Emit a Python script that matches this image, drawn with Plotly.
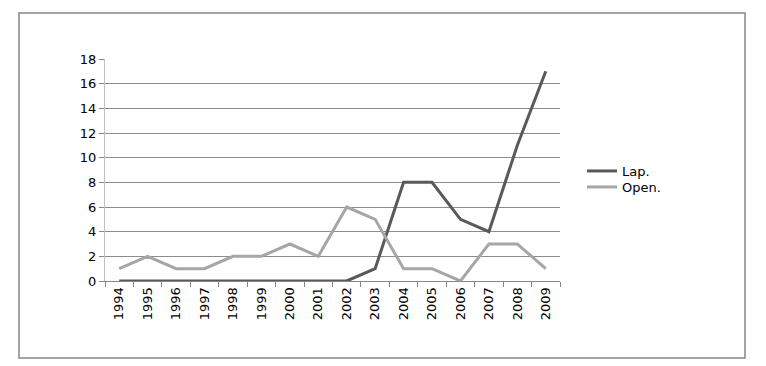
import plotly.graph_objects as go

years = [str(y) for y in range(1994, 2010)]
lap = [0, 0, 0, 0, 0, 0, 0, 0, 0, 1, 8, 8, 5, 4, 11, 17]
open_ = [1, 2, 1, 1, 2, 2, 3, 2, 6, 5, 1, 1, 0, 3, 3, 1]

OFF = 8  # default page body margin
W, H = 750, 352
L, R, T, B = 105 - OFF, 560 - OFF, 59 - OFF, 281 - OFF

fig = go.Figure()
fig.add_trace(go.Scatter(x=years, y=lap, mode="lines", name="Lap.", legend="legend",
                         line=dict(color="#595959", width=3)))
fig.add_trace(go.Scatter(x=years, y=open_, mode="lines", name="Open.", legend="legend2",
                         line=dict(color="#a6a6a6", width=3)))

pw, ph = R - L, B - T
fig.add_shape(type="rect", xref="paper", yref="paper",
              x0=(19 - OFF - L) / pw, x1=(745 - OFF - L) / pw,
              y0=(B - (358 - OFF)) / ph, y1=(B - (13 - OFF)) / ph,
              line=dict(color="#868686", width=1.5), fillcolor="rgba(0,0,0,0)")

font = dict(family="DejaVu Sans, Noto Sans, sans-serif", size=13, color="#000000")
lx = (582 - OFF - L) / pw
fig.update_layout(
    width=W, height=H,
    margin=dict(l=L, r=W - R, t=T, b=H - B),
    paper_bgcolor="white", plot_bgcolor="white",
    font=font,
    showlegend=True,
    legend=dict(x=lx, y=(B - (171 - OFF)) / ph, xanchor="left", yanchor="middle",
                font=dict(size=13), itemwidth=30, bgcolor="rgba(0,0,0,0)"),
    legend2=dict(x=lx, y=(B - (187 - OFF)) / ph, xanchor="left", yanchor="middle",
                 font=dict(size=13), itemwidth=30, bgcolor="rgba(0,0,0,0)"),
    xaxis=dict(type="category", range=[-0.5, 15.5], tickangle=-90,
               ticks="outside", tickson="boundaries", ticklen=5, tickcolor="#868686",
               showline=True, linecolor="#868686", linewidth=1, showgrid=False,
               tickfont=dict(size=13)),
    yaxis=dict(range=[0, 18], dtick=2, showgrid=True, gridcolor="#8c8c8c", gridwidth=1,
               showline=True, linecolor="#c0c0c0", ticks="outside", ticklen=5,
               tickcolor="#868686", zeroline=False, tickfont=dict(size=13)),
)
fig.write_html("out.html")
